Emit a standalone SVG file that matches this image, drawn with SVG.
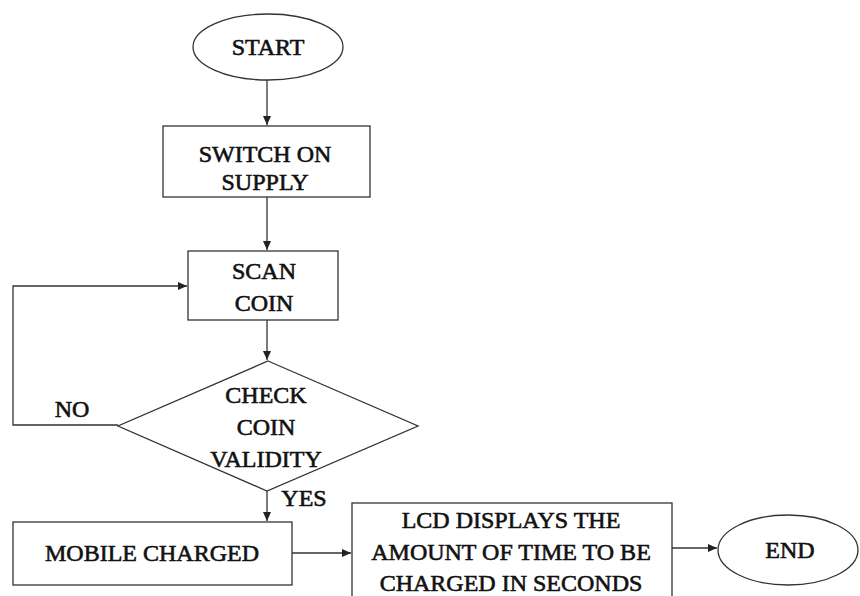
<svg xmlns="http://www.w3.org/2000/svg" width="860" height="596" viewBox="0 0 860 596">
<style>
.s{fill:#fff;stroke:#333;stroke-width:1.3}
.t{font-family:'Liberation Serif','Times New Roman',serif;font-size:24px;fill:#111;stroke:#111;stroke-width:0.6;text-anchor:middle}
.c{fill:none;stroke:#333;stroke-width:1.3}
</style>
<defs>
<marker id="a" markerWidth="10" markerHeight="8" refX="9" refY="4" orient="auto" markerUnits="userSpaceOnUse">
<path d="M0,0 L9,4 L0,8 Z" fill="#222"/>
</marker>
</defs>
<rect width="860" height="596" fill="#fff"/>
<g id="connectors">
<line class="c" x1="267" y1="80" x2="267" y2="125" marker-end="url(#a)"/>
<line class="c" x1="267" y1="197" x2="267" y2="250" marker-end="url(#a)"/>
<line class="c" x1="267" y1="320" x2="267" y2="360" marker-end="url(#a)"/>
<polyline class="c" points="118,425 13,425 13,286 187,286" marker-end="url(#a)"/>
<line class="c" x1="267" y1="491" x2="267" y2="521" marker-end="url(#a)"/>
<line class="c" x1="292" y1="553" x2="351" y2="553" marker-end="url(#a)"/>
<line class="c" x1="672" y1="548" x2="717" y2="548" marker-end="url(#a)"/>
<text class="t" x="72" y="417">NO</text>
<text class="t" x="304" y="506">YES</text>
</g>
<g id="start">
<ellipse class="s" cx="268" cy="47" rx="75" ry="33"/>
<text class="t" x="268" y="55">START</text>
</g>
<g id="switch">
<rect class="s" x="163" y="126" width="207" height="71"/>
<text class="t" x="265" y="162">SWITCH ON</text>
<text class="t" x="265" y="190">SUPPLY</text>
</g>
<g id="scan">
<rect class="s" x="188" y="251" width="150" height="69"/>
<text class="t" x="264" y="279">SCAN</text>
<text class="t" x="264" y="311">COIN</text>
</g>
<g id="check">
<polygon class="s" points="268,361 418,426 267,491 118,426"/>
<text class="t" x="266" y="403">CHECK</text>
<text class="t" x="266" y="435">COIN</text>
<text class="t" x="266" y="467">VALIDITY</text>
</g>
<g id="mobile">
<rect class="s" x="13" y="522" width="279" height="63"/>
<text class="t" x="152" y="561">MOBILE CHARGED</text>
</g>
<g id="lcd">
<rect class="s" x="352" y="503" width="320" height="100"/>
<text class="t" x="511" y="528">LCD DISPLAYS THE</text>
<text class="t" x="511" y="560">AMOUNT OF TIME TO BE</text>
<text class="t" x="511" y="591">CHARGED IN SECONDS</text>
</g>
<g id="end">
<ellipse class="s" cx="788" cy="550" rx="70" ry="35"/>
<text class="t" x="790" y="558">END</text>
</g>
</svg>
